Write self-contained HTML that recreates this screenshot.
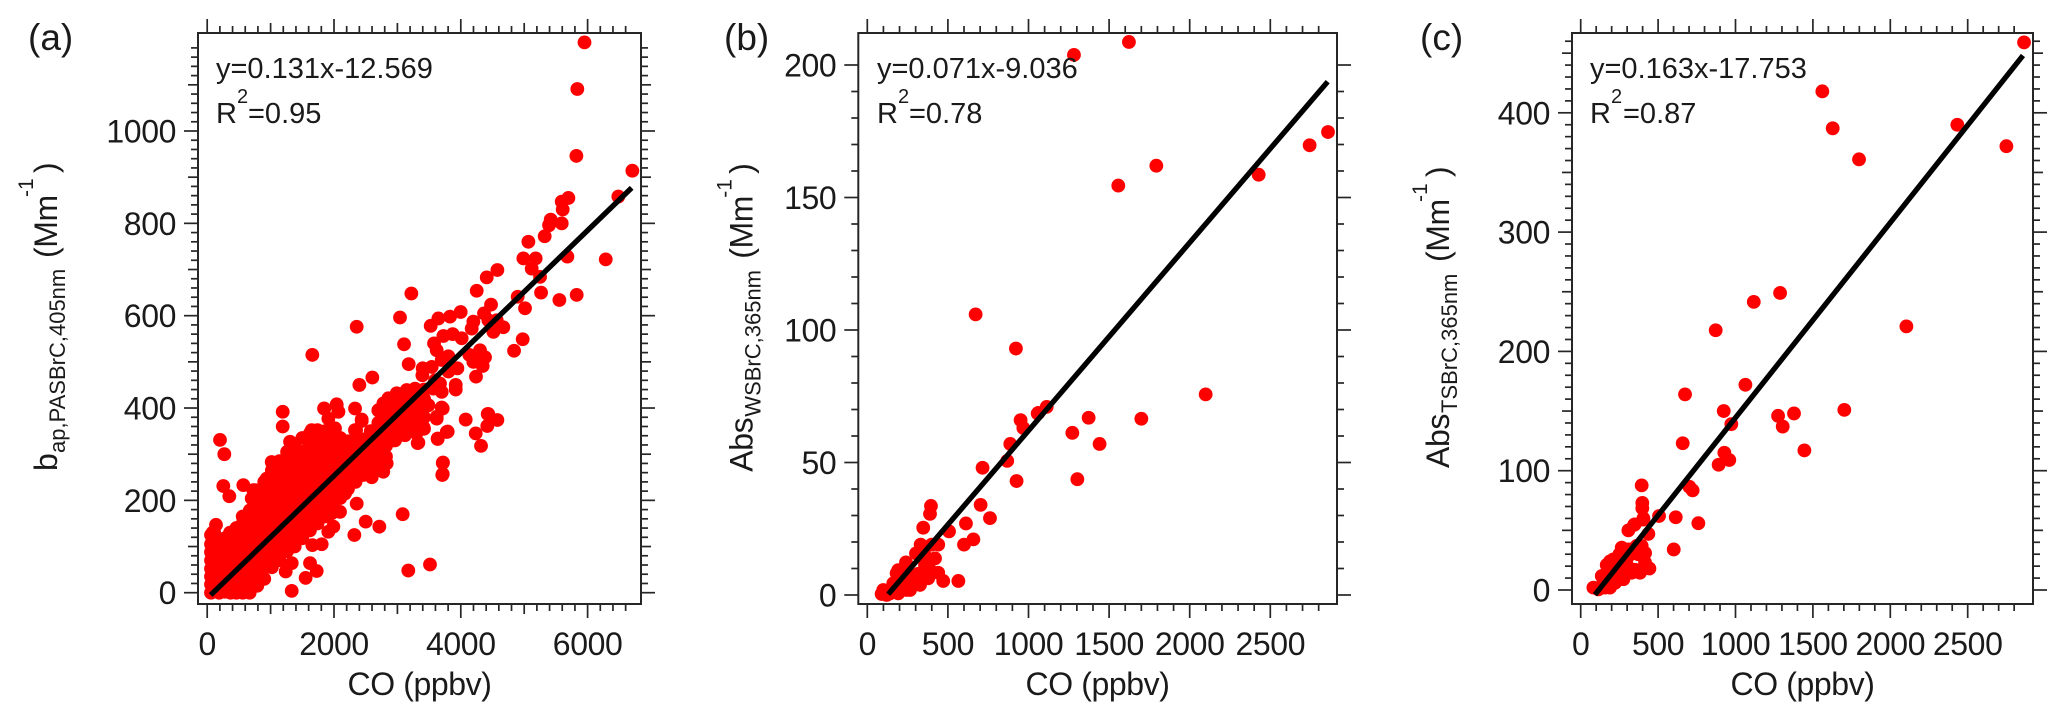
<!DOCTYPE html>
<html lang="en">
<head>
<meta charset="utf-8">
<title>BrC absorption versus CO</title>
<style>
html,body{margin:0;padding:0;background:#fff;width:2067px;height:720px;overflow:hidden}
svg{display:block}
text{font-family:"Liberation Sans",Arial,sans-serif;fill:#1a1a1a}
</style>
</head>
<body>
<svg id="chart" xmlns="http://www.w3.org/2000/svg" width="2067" height="720" viewBox="0 0 2067 720">
  <rect x="0" y="0" width="2067" height="720" fill="#fff"/>

  <g id="panel-a"></g>
  <g id="panel-b"></g>
  <g id="panel-c"></g>

  <text x="28" y="50" font-size="37">(a)</text>
  <text x="724" y="50" font-size="37">(b)</text>
  <text x="1420" y="50" font-size="37">(c)</text>

  <g font-size="29">
    <text x="216" y="78">y=0.131x-12.569</text>
    <text x="216" y="123">R</text><text x="237" y="103" font-size="20">2</text><text x="248" y="123">=0.95</text>
  </g>
  <g font-size="29">
    <text x="877" y="78">y=0.071x-9.036</text>
    <text x="877" y="123">R</text><text x="898" y="103" font-size="20">2</text><text x="909" y="123">=0.78</text>
  </g>
  <g font-size="29">
    <text x="1590" y="78">y=0.163x-17.753</text>
    <text x="1590" y="123">R</text><text x="1611" y="103" font-size="20">2</text><text x="1623" y="123">=0.87</text>
  </g>

  <g transform="translate(57,471) rotate(-90)">
    <text x="0" y="0" font-size="32">b</text>
    <text x="18" y="8" font-size="22">ap,PASBrC,405nm</text>
    <text x="213" y="0" font-size="32" letter-spacing="-0.4">(Mm</text>
    <text x="274" y="-24" font-size="21">-1</text>
    <text x="298" y="0" font-size="32">)</text>
  </g>
  <g transform="translate(752.7,471.7) rotate(-90)">
    <text x="0" y="0" font-size="32" letter-spacing="-0.4">Abs</text>
    <text x="55" y="8" font-size="22">WSBrC,365nm</text>
    <text x="213" y="0" font-size="32" letter-spacing="-0.4">(Mm</text>
    <text x="274" y="-21" font-size="21">-1</text>
    <text x="298" y="0" font-size="32">)</text>
  </g>
  <g transform="translate(1449,468) rotate(-90)">
    <text x="0" y="0" font-size="32" letter-spacing="-0.4">Abs</text>
    <text x="55" y="8" font-size="22">TSBrC,365nm</text>
    <text x="206" y="0" font-size="32" letter-spacing="-0.4">(Mm</text>
    <text x="266" y="-22" font-size="21">-1</text>
    <text x="291" y="0" font-size="32">)</text>
  </g>

  <text x="419.5" y="695" font-size="32" letter-spacing="-0.4" text-anchor="middle">CO (ppbv)</text>
  <text x="1097.5" y="695" font-size="32" letter-spacing="-0.4" text-anchor="middle">CO (ppbv)</text>
  <text x="1802.5" y="695" font-size="32" letter-spacing="-0.4" text-anchor="middle">CO (ppbv)</text>
</svg>

<script>
// ---------- Panel (a) data ----------
const xLabelsA = [0, 2000, 4000, 6000];
const yLabelsA = [0, 200, 400, 600, 800, 1000];
const fitCoA = [55, 6695];
const fitBapA = [-5, 877];
const denseCoA = [60,110,190,280,370,460,560,670,790,900,1020,1140,1260,1380,1500,1620,1740,1860,1980,2100,2220,2340,2460,2580,2700,2820,2940,3060,3180,3300,3420];
const denseBapA = [
 [0,18,35,52,70,88,105,125],
 [5,25,45,65,85,100,130],
 [0,20,38,55,75,95,115],
 [2,22,40,60,78,98,118],
 [0,18,36,55,72,90,108,128],
 [0,20,40,58,80,100,122,140],
 [0,22,42,62,82,105,125,150,165],
 [0,25,45,68,90,112,135,155,178],
 [15,38,60,85,108,130,150,175,198],
 [30,55,78,100,125,150,172,195,220,240],
 [55,78,100,125,148,170,195,218,245,265],
 [70,95,118,142,165,190,212,238,262,285],
 [90,112,135,160,182,205,230,255,278,305],
 [100,122,148,170,195,218,240,265,290,315],
 [118,140,165,188,212,235,258,282,305,335],
 [135,155,180,205,228,250,272,298,320,345],
 [150,175,200,222,245,268,292,315,338,352],
 [165,190,215,238,262,285,310,332,350],
 [190,212,235,258,280,305,325,345],
 [205,228,252,275,298,320,335],
 [225,248,270,292,312,328],
 [240,262,285,305,325],
 [255,278,300,322,332],
 [270,290,312,335,350],
 [280,300,322,345,368,395],
 [295,318,340,360,385,405],
 [330,352,375,398,420],
 [345,365,390,412,425],
 [350,372,395,415,430],
 [345,370,390,410,430],
 [355,380,400,420,440]
];
const pointsA = [
 [5951,1192],[5838,1091],[5823,946],[6706,914],[6485,858],[5697,855],[5592,847],[5607,830],[5418,808],[5592,800],
 [5392,796],[5323,772],[5066,760],[4987,724],[5181,724],[5118,702],[5250,684],[5681,728],[6286,722],[4577,699],
 [4409,683],[4251,654],[5266,650],[5828,645],[5555,634],[4897,641],[5013,616],[4477,624],[4366,605],[3998,608],
 [3830,598],[3646,594],[3525,578],[4198,587],[4172,572],[4435,590],[4566,590],[4671,575],[4514,565],[4593,580],
 [4976,549],[4840,524],[3041,596],[3220,648],[2358,576],[3105,538],[3178,495],[2605,466],[2400,450],[3725,556],
 [3872,560],[4014,551],[3578,540],[3620,525],[3804,512],[3699,504],[3541,489],[3399,486],[3394,471],[3946,486],
 [3804,479],[4303,525],[4135,515],[4382,510],[4198,500],[4345,491],[4240,468],[3920,450],[3920,440],[3672,453],
 [3594,460],[3699,435],[3567,442],[3147,439],[3278,442],[2989,432],[2857,421],[2779,410],[2700,395],[3699,401],
 [3488,406],[3383,424],[2831,399],[2963,395],[3147,424],[3225,395],[3357,388],[3620,381],[2332,399],[2437,375],
 [4077,375],[4424,387],[4577,374],[1658,515],[1191,392],[1191,360],[202,331],[270,300],[254,231],[349,209],
 [570,233],[1847,399],[2042,408],[2068,392],[2331,352],[3320,324],[3635,333],[3793,349],[4235,345],[4319,318],
 [4418,361],[4434,387],[3719,282],[3708,255],[3083,170],[3514,61],[3172,48],[2715,143],[2500,154],[2321,125],
 [2358,193],[2174,215],[2068,222],[2331,246],[2595,250],[2777,262],[2831,280],[2095,175],[1964,172],[1990,143],
 [1910,132],[1806,105],[1659,103],[1727,47],[1622,64],[1553,32],[1333,64],[1238,46],[1333,4],[806,24],
 [360,130],[139,147],[86,130],[71,107],[71,85],[727,222],[806,200],[702,204],[1017,283],[1307,327],
 [1648,352],[1911,377],[1843,399],[2043,406],[2069,392],[2437,372],[2348,352],[2016,356],[2158,327],[938,247],
 [755,222],[3331,325],[3636,334],[3715,281],[3715,257],[3778,348],[3488,406],[3715,399],[3620,377],[3410,359],
 [3120,341],[2963,330]
];

// ---------- Panel (b) data ----------
const xLabelsB = [0, 500, 1000, 1500, 2000, 2500];
const yLabelsB = [0, 50, 100, 150, 200];
const fitCoB = [130, 2856];
const fitAbsB = [0.3, 193.7];
const pointsB = [
 [1282,203.8],[1623,208.7],[1557,154.5],[1793,162],[2428,158.6],[2744,169.7],[2858,174.7],[2099,75.7],[1373,66.9],[1700,66.5],
 [1272,61.2],[1441,57],[1303,43.7],[672,105.9],[922,93],[1061,68.7],[1113,71],[1057,68.5],[951,66],[968,63],
 [887,57],[868,50.6],[715,48],[926,43],[703,34],[761,29],[612,27],[507,24],[395,33.6],[389,30.6],
 [347,25.4],[658,21],[600,19],[565,5.3],[440,19],[399,19],[331,19],[302,15.7],[420,13.8],[378,13.2],
 [358,11.3],[240,12.3],[192,9.4],[182,8.2],[440,8.4],[471,5.3],[378,6.3],[327,3.8],[389,9.4],[352,15.7],
 [254,8.2],[275,5],[244,1.9],[192,0.6],[141,0.6],[89,0.4],[99,1.9],[161,4.4],[203,4.4],[234,4.4],
 [151,2.5],[120,0],[316,8],[285,5.7],[368,9.4],[265,1.9],[213,7],[389,13]
];

// ---------- Panel (c) data ----------
const xLabelsC = [0, 500, 1000, 1500, 2000, 2500];
const yLabelsC = [0, 100, 200, 300, 400];
const fitCoC = [92, 2857];
const fitAbsC = [-4, 448];
const pointsC = [
 [2864,459],[1561,418],[1628,387],[1798,361],[2433,390],[2750,372],[1288,249],[1118,241.5],[872,217.7],[2104,221],
 [1064,172],[674,164],[924,150],[1703,151],[1275,146],[1378,148],[1305,137],[973,139],[1445,117],[928,115],
 [960,109],[891,105],[659,123],[702,86.5],[723,83.5],[394,87.7],[398,73],[398,68.5],[506,62],[614,61],
 [760,56],[601,34],[405,59],[345,54.6],[308,50],[437,47],[349,55],[405,60],[265,35.5],[189,24],
 [168,21],[416,31],[362,37],[329,34],[308,28.5],[372,30],[250,30],[444,18],[416,23],[383,14.5],
 [329,14.5],[276,9],[222,6],[189,2],[136,11.7],[82,2],[114,0.5],[157,2],[222,11.7],[286,17],
 [179,20],[211,25.7],[265,20],[308,34],[243,9],[146,6],[351,17],[168,14.5],[394,37],[254,23],[297,21.5]
];

// ---------- Drawing ----------
const NS = 'http://www.w3.org/2000/svg';
const DARK = '#262626';
const MAJOR = 14, MEDIUM = 10, MINOR = 7;

function make(tag, attrs, parent) {
  const el = document.createElementNS(NS, tag);
  for (const k in attrs) el.setAttribute(k, attrs[k]);
  parent.appendChild(el);
  return el;
}

function tickLength(v, axis) {
  if (v % axis.major === 0) return MAJOR;
  if (axis.medium && v % axis.medium === 0) return MEDIUM;
  return MINOR;
}

function drawPoint(g, sx, sy, co, val) {
  const el = make('circle', {cx: sx(co), cy: sy(val), r: 6.9, fill: '#ff0000'}, g);
  
  
}

function drawPanel(cfg) {
  const root = document.getElementById(cfg.id);
  const f = cfg.frame;
  const sx = function (v) { return cfg.x0 + v * cfg.xk; };
  const sy = function (v) { return cfg.y0 - v * cfg.yk; };

  const pts = make('g', {}, root);
  
  
  if (cfg.denseCo) {
    cfg.denseCo.forEach(function (co, i) {
      cfg.denseVals[i].forEach(function (val) { drawPoint(pts, sx, sy, co, val); });
    });
  }
  cfg.points.forEach(function (p) { drawPoint(pts, sx, sy, p[0], p[1]); });

  const fit = make('line', {
    x1: sx(cfg.fitX[0]), y1: sy(cfg.fitY[0]), x2: sx(cfg.fitX[1]), y2: sy(cfg.fitY[1]),
    stroke: '#000', 'stroke-width': 5.3
  }, root);
  
  

  const frame = make('rect', {
    x: f.l, y: f.t, width: f.r - f.l, height: f.b - f.t,
    fill: 'none', stroke: DARK, 'stroke-width': 2
  }, root);
  
  

  const ticks = make('g', {stroke: DARK, 'stroke-width': 1.7}, root);
  
  
  for (let v = 0; v <= cfg.xAxis.max; v += cfg.xAxis.step) {
    const len = tickLength(v, cfg.xAxis), x = sx(v);
    make('line', {x1: x, x2: x, y1: f.b, y2: f.b + len}, ticks);
    make('line', {x1: x, x2: x, y1: f.t, y2: f.t - len}, ticks);
  }
  for (let v = 0; v <= cfg.yAxis.max; v += cfg.yAxis.step) {
    const len = tickLength(v, cfg.yAxis), y = sy(v);
    make('line', {y1: y, y2: y, x1: f.l, x2: f.l - len}, ticks);
    make('line', {y1: y, y2: y, x1: f.r, x2: f.r + len}, ticks);
  }

  cfg.xLabels.forEach(function (v) {
    const t = make('text', {x: sx(v), y: 655, 'font-size': 32, 'letter-spacing': -0.4, 'text-anchor': 'middle'}, root);
    
    
    t.textContent = String(v);
  });
  cfg.yLabels.forEach(function (v) {
    const t = make('text', {x: f.l - 22, y: sy(v) + 11.5, 'font-size': 32, 'letter-spacing': -0.4, 'text-anchor': 'end'}, root);
    
    
    t.textContent = String(v);
  });
}

drawPanel({
  id: 'panel-a', frame: {l: 198, r: 641, t: 33, b: 604},
  x0: 207.2, xk: 0.0634, y0: 592.7, yk: 0.4617,
  xAxis: {step: 200, medium: 1000, major: 2000, max: 6600},
  yAxis: {step: 20, medium: 100, major: 200, max: 1180},
  xLabels: xLabelsA, yLabels: yLabelsA,
  denseCo: denseCoA, denseVals: denseBapA, points: pointsA,
  fitX: fitCoA, fitY: fitBapA
});
drawPanel({
  id: 'panel-b', frame: {l: 858.3, r: 1337, t: 33, b: 604},
  x0: 867.3, xk: 0.1612, y0: 595, yk: 2.65,
  xAxis: {step: 100, medium: 0, major: 500, max: 2800},
  yAxis: {step: 10, medium: 0, major: 50, max: 200},
  xLabels: xLabelsB, yLabels: yLabelsB,
  points: pointsB, fitX: fitCoB, fitY: fitAbsB
});
drawPanel({
  id: 'panel-c', frame: {l: 1572, r: 2033, t: 33, b: 604},
  x0: 1580.7, xk: 0.1548, y0: 590, yk: 1.193,
  xAxis: {step: 100, medium: 0, major: 500, max: 2800},
  yAxis: {step: 10, medium: 50, major: 100, max: 460},
  xLabels: xLabelsC, yLabels: yLabelsC,
  points: pointsC, fitX: fitCoC, fitY: fitAbsC
});
</script>
</body>
</html>
